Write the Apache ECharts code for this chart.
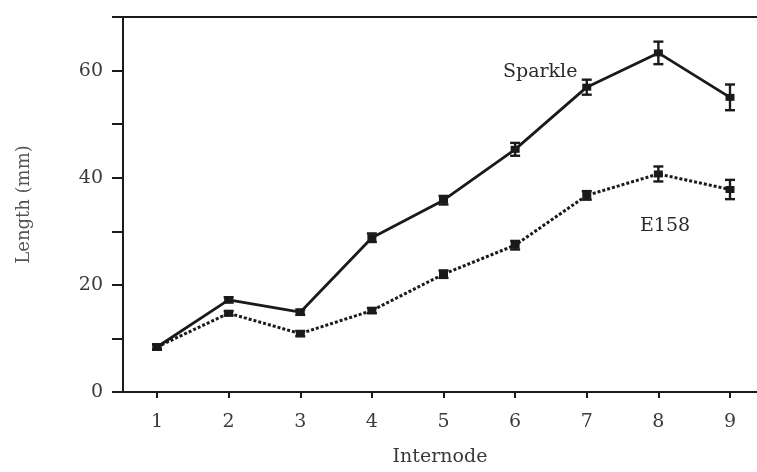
<!DOCTYPE html>
<html>
<head>
<meta charset="utf-8">
<script src="https://cdn.jsdelivr.net/npm/echarts@6/dist/echarts.min.js"></script>
<style>
html,body{margin:0;padding:0;background:#fff;}
#chart{width:757px;height:472px;}
</style>
</head>
<body>
<div id="chart"></div>
<script>
var internodes = [1, 2, 3, 4, 5, 6, 7, 8, 9];
var sparkle = [8.4, 17.2, 14.9, 28.8, 35.8, 45.3, 56.9, 63.3, 55.0];
var sparkleErr = [0.5, 0.5, 0.5, 0.8, 0.8, 1.2, 1.4, 2.1, 2.4];
var e158 = [8.4, 14.7, 10.9, 15.2, 22.0, 27.4, 36.7, 40.7, 37.8];
var e158Err = [0.5, 0.4, 0.5, 0.5, 0.7, 0.8, 0.8, 1.4, 1.8];
var yTickLabels = [0, 20, 40, 60];
var seriesNames = ['Sparkle', 'E158'];

var FONT = 'DejaVu Serif';
var TXT = '#3a3a3a';
var INK = '#1a1a1a';

function pairs(vals) { return internodes.map(function (x, i) { return [x, vals[i]]; }); }
function errData(vals, errs) { return internodes.map(function (x, i) { return [x, vals[i] - errs[i], vals[i] + errs[i]]; }); }

function errRender(params, api) {
  var x = api.value(0);
  var lo = api.coord([x, api.value(1)]);
  var hi = api.coord([x, api.value(2)]);
  var w = 5;
  var st = { stroke: INK, lineWidth: 2.4 };
  return {
    type: 'group',
    children: [
      { type: 'line', shape: { x1: lo[0], y1: lo[1], x2: hi[0], y2: hi[1] }, style: st },
      { type: 'line', shape: { x1: lo[0] - w, y1: lo[1], x2: lo[0] + w, y2: lo[1] }, style: st },
      { type: 'line', shape: { x1: hi[0] - w, y1: hi[1], x2: hi[0] + w, y2: hi[1] }, style: st }
    ]
  };
}

var chart = echarts.init(document.getElementById('chart'), null, { renderer: 'canvas' });
chart.setOption({
  backgroundColor: '#ffffff',
  animation: false,
  grid: { left: 123, right: 0, top: 17, bottom: 71, containLabel: false },
  xAxis: [{
    type: 'value',
    min: 0.525, max: 9.377,
    name: 'Internode',
    nameLocation: 'middle',
    nameGap: 56,
    nameTextStyle: { fontFamily: FONT, fontSize: 19, color: TXT },
    axisLine: { lineStyle: { color: INK, width: 2 } },
    axisTick: { show: true, length: 6, lineStyle: { color: INK, width: 2 }, customValues: internodes },
    axisLabel: { fontFamily: FONT, fontSize: 19, color: TXT, margin: 21, customValues: internodes },
    splitLine: { show: false }
  }, {
    type: 'value', position: 'top', min: 0.525, max: 9.377,
    axisLine: { show: true, lineStyle: { color: INK, width: 2 } },
    axisTick: { show: false }, axisLabel: { show: false }, splitLine: { show: false }
  }],
  yAxis: {
    type: 'value',
    min: 0, max: 70, interval: 10,
    name: 'Length (mm)',
    nameLocation: 'middle',
    nameGap: 90,
    nameRotate: 90,
    nameTextStyle: { fontFamily: FONT, fontSize: 18, color: '#555' },
    axisLine: { show: true, lineStyle: { color: INK, width: 2 } },
    axisTick: { show: true, length: 11, lineStyle: { color: INK, width: 2 } },
    axisLabel: { fontFamily: FONT, fontSize: 19, color: TXT, margin: 20, customValues: yTickLabels },
    splitLine: { show: false }
  },
  series: [
    {
      name: seriesNames[0], type: 'line', data: pairs(sparkle),
      lineStyle: { color: INK, width: 2.8, type: 'solid' },
      itemStyle: { color: INK },
      symbol: 'rect', symbolSize: [9, 7], z: 3
    },
    {
      name: seriesNames[1], type: 'line', data: pairs(e158),
      lineStyle: { color: INK, width: 3, type: [3, 2] },
      itemStyle: { color: INK },
      symbol: 'rect', symbolSize: [9, 7], z: 3
    },
    { type: 'custom', data: errData(sparkle, sparkleErr), renderItem: errRender, z: 4, encode: { x: 0, y: [1, 2] } },
    { type: 'custom', data: errData(e158, e158Err), renderItem: errRender, z: 4, encode: { x: 0, y: [1, 2] } }
  ],
  graphic: [
    { type: 'text', left: 503, top: 63, style: { text: seriesNames[0], font: '19px "DejaVu Serif"', fill: '#2a2a2a' } },
    { type: 'text', left: 640, top: 217, style: { text: seriesNames[1], font: '19px "DejaVu Serif"', fill: '#2a2a2a' } }
  ]
});
</script>
</body>
</html>
